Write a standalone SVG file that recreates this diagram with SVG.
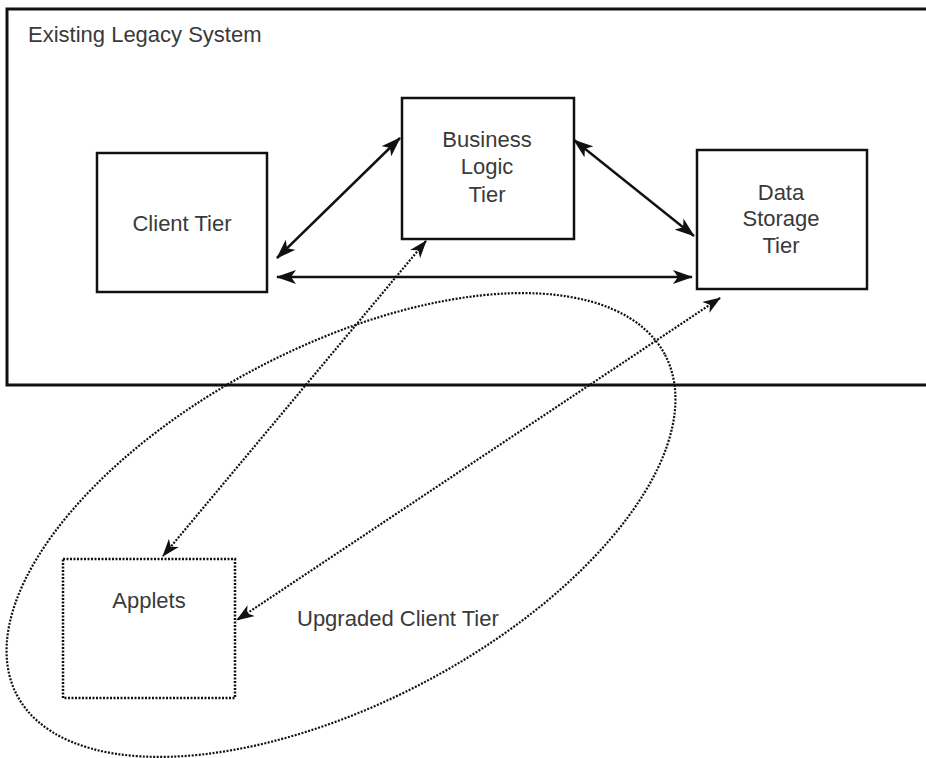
<svg xmlns="http://www.w3.org/2000/svg" width="926" height="758" viewBox="0 0 926 758">
<style>
.box{fill:#fff;stroke:#111;stroke-width:2.5}
.dbox{fill:#fff;stroke:#111;stroke-width:2.5;stroke-dasharray:2 1.5}
.lbl{font-family:"Liberation Sans",Arial,sans-serif;font-size:22px;fill:#3a3a3a}
.mid{text-anchor:middle}
.sol{stroke:#111;stroke-width:2.5;fill:none;marker-start:url(#ah);marker-end:url(#ah)}
.dot{stroke:#111;stroke-width:2.2;fill:none;stroke-dasharray:2 1.5;marker-start:url(#ahs);marker-end:url(#ahs)}
</style>
<defs>
<marker id="ah" viewBox="0 0 20 14" refX="19" refY="7" markerWidth="20" markerHeight="14" markerUnits="userSpaceOnUse" orient="auto-start-reverse">
<path d="M0,0 L20,7 L0,14 L5,7 z" fill="#111"/>
</marker>
<marker id="ahs" viewBox="0 0 18 13" refX="17" refY="6.5" markerWidth="18" markerHeight="13" markerUnits="userSpaceOnUse" orient="auto-start-reverse">
<path d="M0,0 L18,6.5 L0,13 L5,6.5 z" fill="#111"/>
</marker>
</defs>
<rect width="926" height="758" fill="#fff"/>
<g id="legacy">
<rect x="7" y="9" width="940" height="376" fill="none" stroke="#111" stroke-width="3"/>
<text class="lbl" x="28" y="42">Existing Legacy System</text>
</g>
<g id="upgraded">
<ellipse cx="341" cy="525" rx="366" ry="178" transform="rotate(-27.7 341 525)" fill="none" stroke="#111" stroke-width="2.2" stroke-dasharray="2 1.5"/>
<text class="lbl" x="297" y="626">Upgraded Client Tier</text>
</g>
<g id="client">
<rect class="box" x="97" y="153" width="170" height="139"/>
<text class="lbl mid" x="182" y="231">Client Tier</text>
</g>
<g id="business">
<rect class="box" x="402" y="98" width="172" height="141"/>
<text class="lbl mid" x="487" y="147">Business</text>
<text class="lbl mid" x="487" y="174">Logic</text>
<text class="lbl mid" x="487" y="202">Tier</text>
</g>
<g id="data">
<rect class="box" x="697" y="150" width="170" height="139"/>
<text class="lbl mid" x="781" y="200">Data</text>
<text class="lbl mid" x="781" y="226">Storage</text>
<text class="lbl mid" x="781" y="253">Tier</text>
</g>
<g id="applets">
<rect class="dbox" x="63" y="559" width="172" height="139"/>
<text class="lbl mid" x="149" y="608">Applets</text>
</g>
<g id="connectors">
<line class="sol" x1="277" y1="258" x2="400" y2="138"/>
<line class="sol" x1="574" y1="140" x2="694" y2="236"/>
<line class="sol" x1="277" y1="277" x2="692" y2="277"/>
<line class="dot" x1="426" y1="241" x2="163" y2="556"/>
<line class="dot" x1="720" y1="298" x2="237" y2="620"/>
</g>
</svg>
